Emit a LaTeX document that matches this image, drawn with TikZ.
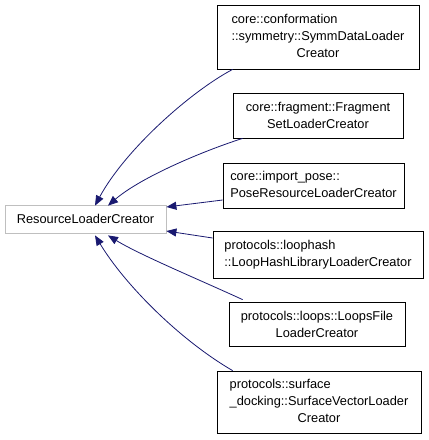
\documentclass[tikz,border=0pt]{standalone}
\usepackage{fontspec}
\setmainfont{Liberation Sans}
\usetikzlibrary{arrows.meta}
\definecolor{edgeblue}{HTML}{191970}
\newcommand{\txtlines}[1]{\begin{tabular}{@{}l@{}}#1\end{tabular}}
\newcommand{\lastline}[1]{\multicolumn{1}{@{}c@{}}{#1}}

\begin{document}
\begin{tikzpicture}[x=1pt,y=-1pt,>={Triangle[length=10pt,width=8pt,fill=edgeblue]}]

  \tikzstyle{cls}=[rectangle,draw=black,line width=0.8pt,inner sep=0pt,align=center,
    font=\fontsize{12.8}{17}\selectfont]
  \tikzstyle{base}=[cls,draw=black!25]
  \tikzstyle{inherit}=[->,draw=edgeblue,line width=0.8pt]

  \useasboundingbox (0,0) rectangle (429,440);

  \node [base] (rlc) at (85.5,219) [minimum width=161pt,minimum height=28pt] {ResourceLoaderCreator};

  \node [cls] (symm)  at (318,37)    [minimum width=202pt,minimum height=64pt]
    {\txtlines{core::conformation\\::symmetry::SymmDataLoader\\\lastline{Creator}}};
  \node [cls] (frag)  at (318,115.5) [minimum width=170pt,minimum height=45pt]
    {core::fragment::Fragment\\SetLoaderCreator};
  \node [cls] (pose)  at (313.5,185.5) [minimum width=181pt,minimum height=45pt]
    {\txtlines{core::import\_pose::\\PoseResourceLoaderCreator}};
  \node [cls] (lhash) at (318,254.5) [minimum width=210pt,minimum height=47pt]
    {\txtlines{protocols::loophash\\::LoopHashLibraryLoaderCreator}};
  \node [cls] (loops) at (317,324)   [minimum width=176pt,minimum height=44pt]
    {protocols::loops::LoopsFile\\LoaderCreator};
  \node [cls] (surf)  at (319,402)   [minimum width=204pt,minimum height=62pt]
    {\txtlines{protocols::surface\\\_docking::SurfaceVectorLoader\\\lastline{Creator}}};

  \draw [inherit] ([xshift=16pt]symm.south west) .. controls (190,92) and (125,150) .. ([xshift=9.5pt,yshift=-1pt]rlc.north);
  \draw [inherit] ([xshift=10pt]frag.south west) .. controls (200,152) and (140,178) .. ([xshift=22.5pt,yshift=-1pt]rlc.north);
  \draw [inherit] ([yshift=-14.5pt]pose.west) -- ([yshift=12pt]rlc.east);
  \draw [inherit] ([yshift=16.5pt]lhash.west) -- ([yshift=-12pt]rlc.east);
  \draw [inherit] ([xshift=14pt,yshift=2pt]loops.north west) .. controls (200,280) and (140,255) .. ([xshift=22.5pt,yshift=-2pt]rlc.south);
  \draw [inherit] ([xshift=16pt]surf.north west) .. controls (180,340) and (125,285) .. ([xshift=9.5pt,yshift=-2pt]rlc.south);

\end{tikzpicture}
\end{document}
